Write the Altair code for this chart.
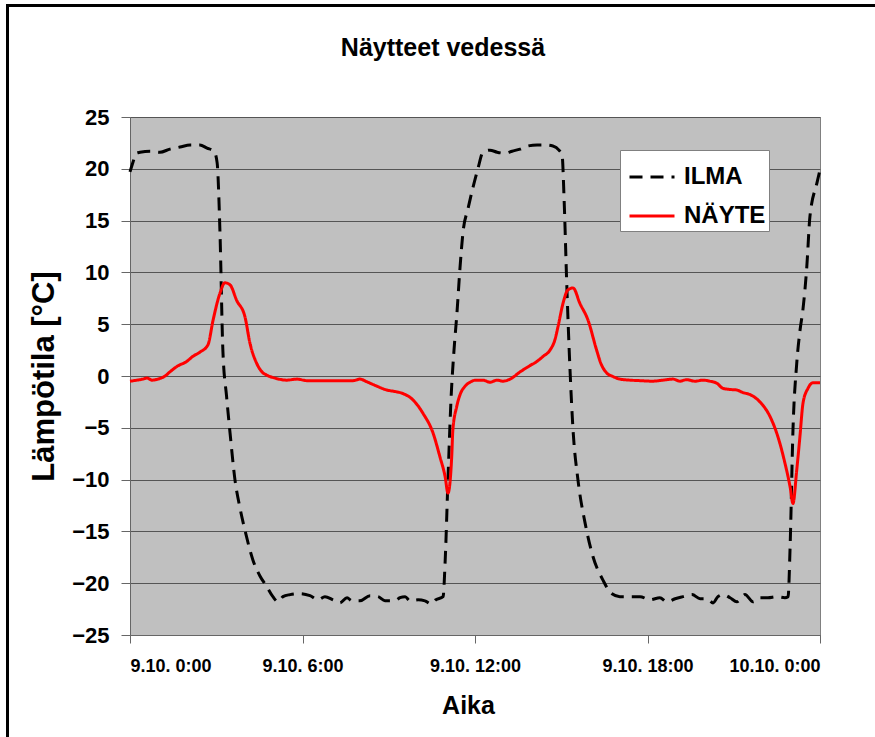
import json
import altair as alt
import pandas as pd

# ---- data (hours from 9.10. 0:00, temperature °C) ----
ILMA_T = [0.00, 0.10, 0.21, 0.35, 0.70, 1.04, 1.39, 1.74, 2.09, 2.43, 2.68, 2.92, 3.03, 3.13, 3.23,
          3.36, 3.48, 3.65, 3.83, 4.00, 4.28, 4.52, 4.75, 4.97, 5.15, 5.32, 5.57, 5.91, 6.26, 6.54,
          6.78, 7.06, 7.30, 7.55, 7.72, 8.00, 8.35, 8.63, 8.87, 9.22, 9.39, 9.57, 9.74, 10.02, 10.26,
          10.47, 10.64, 10.89, 10.96, 11.06, 11.17, 11.27, 11.37, 11.48, 11.58, 11.76, 11.93, 12.10,
          12.28, 12.52, 12.77, 13.04, 13.29, 13.57, 13.84, 14.16, 14.43, 14.71, 14.92, 15.03, 15.10,
          15.19, 15.30, 15.41, 15.58, 15.83, 16.10, 16.45, 16.75, 17.04, 17.39, 17.74, 18.09, 18.43,
          18.68, 18.96, 19.23, 19.55, 19.83, 20.07, 20.28, 20.45, 20.63, 20.87, 21.11, 21.39, 21.67,
          21.91, 22.19, 22.50, 22.78, 22.89, 22.96, 23.06, 23.19, 23.30, 23.41, 23.54, 23.65, 23.89,
          24.00]
ILMA_V = [19.7, 20.6, 21.5, 21.6, 21.7, 21.6, 21.9, 22.1, 22.3, 22.3, 22.0, 21.7, 20.6, 13.8, 2.5,
          -2.0, -5.5, -10.0, -12.8, -14.9, -17.8, -19.3, -20.3, -21.3, -21.8, -21.3, -21.1, -21.0, -21.2, -21.6,
          -21.3, -21.6, -21.9, -21.4, -21.7, -21.7, -21.2, -21.3, -21.7, -21.7, -21.4, -21.3, -21.7, -21.6, -21.7,
          -22.0, -21.6, -21.3, -18.0, -10.0, -2.0, 2.5, 6.0, 10.5, 13.8, 16.2, 18.2, 20.0,
          21.6, 21.8, 21.6, 21.5, 21.7, 21.9, 22.2, 22.3, 22.3, 22.2, 21.8, 21.3, 17.0,
          9.0, 0.9, -5.2, -10.0, -14.2, -17.4, -19.7, -21.0, -21.3, -21.3, -21.3, -21.6, -21.4,
          -21.8, -21.5, -21.3, -21.1, -21.5, -21.5, -21.9, -21.3, -21.1, -21.4, -21.8, -21.1, -21.8,
          -21.4, -21.4, -21.3, -21.4, -21.3, -16.5, -5.2, 1.2, 4.3, 6.5, 10.5, 15.4, 18.6,
          19.9]

NAYTE_T = [0.00, 0.24, 0.45, 0.59, 0.77, 0.97, 1.22, 1.39, 1.62, 1.97, 2.19, 2.43, 2.71, 2.89, 3.13,
           3.30, 3.48, 3.71, 4.00, 4.17, 4.41, 4.59, 4.75, 5.04, 5.45, 5.81, 6.15, 6.61, 7.13, 7.76,
           8.00, 8.23, 8.52, 8.93, 9.22, 9.50, 9.84, 10.19, 10.54, 10.78, 10.96, 11.06, 11.19, 11.23,
           11.36, 11.48, 11.65, 11.83, 12.03, 12.28, 12.52, 12.77, 12.97, 13.22, 13.57, 13.91, 14.15,
           14.37, 14.61, 14.78, 14.89, 15.06, 15.23, 15.41, 15.65, 15.93, 16.23, 16.38, 16.58, 16.80,
           17.04, 17.39, 17.74, 18.17, 18.54, 18.89, 19.13, 19.36, 19.65, 19.93, 20.17, 20.41, 20.63,
           20.87, 21.10, 21.32, 21.57, 21.91, 22.26, 22.54, 22.78, 22.96, 23.06, 23.19, 23.30, 23.41,
           23.58, 23.76, 24.00]
NAYTE_V = [-0.5, -0.4, -0.3, -0.2, -0.4, -0.3, 0.0, 0.4, 0.9, 1.4, 1.9, 2.3, 3.0, 5.4, 8.0,
           9.0, 8.8, 7.3, 5.7, 3.2, 1.2, 0.4, 0.1, -0.2, -0.4, -0.3, -0.45, -0.45, -0.45, -0.45,
           -0.3, -0.55, -0.9, -1.35, -1.5, -1.7, -2.3, -3.6, -5.5, -7.8, -9.7, -11.3, -7.8, -5.2,
           -3.0, -1.8, -1.0, -0.6, -0.4, -0.4, -0.6, -0.4, -0.5, -0.3, 0.4, 1.0, 1.4,
           1.9, 2.5, 3.5, 4.8, 7.0, 8.3, 8.5, 7.0, 5.4, 2.5, 1.2, 0.3, -0.05,
           -0.3, -0.4, -0.45, -0.5, -0.4, -0.3, -0.5, -0.35, -0.5, -0.4, -0.5, -0.7, -1.2,
           -1.3, -1.35, -1.6, -1.8, -2.5, -3.9, -5.9, -8.4, -10.7, -12.3, -9.1, -5.9, -2.6,
           -1.2, -0.65, -0.65]

SERIES = ["ILMA", "NÄYTE"]
X_TICKS = [0, 6, 12, 18, 24]
X_LABELS = ["9.10. 0:00", "9.10. 6:00", "9.10. 12:00", "9.10. 18:00", "10.10. 0:00"]
Y_TICKS = [-25, -20, -15, -10, -5, 0, 5, 10, 15, 20, 25]
TITLE = ["Näytteet vedessä"]

df = pd.concat([
    pd.DataFrame({"t": ILMA_T, "v": ILMA_V, "s": SERIES[0]}),
    pd.DataFrame({"t": NAYTE_T, "v": NAYTE_V, "s": SERIES[1]}),
], ignore_index=True)

FONT = "Liberation Sans"
label_expr = json.dumps(X_LABELS) + "[round(datum.value / 6)]"

lines = alt.Chart(df).mark_line(strokeWidth=3, clip=False, interpolate="monotone").encode(
    x=alt.X("t:Q", scale=alt.Scale(domain=[0, 24], nice=False, zero=False),
            axis=alt.Axis(values=X_TICKS, labelExpr=label_expr, title="Aika", grid=False,
                          labelFontSize=18, labelFontWeight="bold", labelPadding=14,
                          tickSize=8, titleFontSize=25, titleFontWeight="bold",
                          titleX=338, titleY=70, titleAlign="center",
                          titleBaseline="middle")),
    y=alt.Y("v:Q", scale=alt.Scale(domain=[-25, 25], nice=False, zero=False),
            axis=alt.Axis(values=Y_TICKS, title="Lämpötila [°C]", grid=True,
                          labelFontSize=22, labelFontWeight="bold", labelPadding=12,
                          tickSize=9, titleFontSize=31, titleFontWeight="bold",
                          titleX=-86, titleY=259, titleAngle=270, titleAlign="center",
                          titleBaseline="middle")),
    color=alt.Color("s:N", scale=alt.Scale(domain=SERIES, range=["#000000", "#FF0000"]),
                    legend=alt.Legend(title=None, orient="none", legendX=490, legendY=33,
                                      symbolType="stroke", symbolSize=2025,
                                      symbolStrokeWidth=3, labelFontSize=24,
                                      labelFontWeight="bold", fillColor="white",
                                      strokeColor="#808080", padding=3, rowPadding=3,
                                      symbolOffset=5, labelOffset=8)),
    strokeDash=alt.StrokeDash("s:N", scale=alt.Scale(domain=SERIES, range=[[13, 8], [1, 0]]),
                              legend=None),
)

frame = pd.DataFrame({"k": [0]})
border_top = alt.Chart(frame).mark_rule(color="black", strokeWidth=3).encode(
    x=alt.value(-123), x2=alt.value(760), y=alt.value(-111.5))
border_left = alt.Chart(frame).mark_rule(color="black", strokeWidth=3).encode(
    x=alt.value(-122.5), y=alt.value(-113), y2=alt.value(625))

title = alt.Chart(pd.DataFrame({"title": TITLE})).mark_text(
    fontSize=25, fontWeight="bold", font=FONT, color="black", baseline="middle", align="center"
).encode(text="title:N", x=alt.value(313), y=alt.value(-69))

chart = alt.layer(lines, border_top, border_left, title).properties(
    width=690, height=518,
    autosize=alt.AutoSizeParams(type="none"),
    padding={"left": 130, "top": 117, "right": 55, "bottom": 102},
).configure(
    font=FONT, background="white",
).configure_view(
    fill="#C0C0C0", stroke="#808080", strokeWidth=1,
).configure_axis(
    labelFont=FONT, titleFont=FONT, labelColor="black", titleColor="black",
    domainColor="#666666", tickColor="#666666", gridColor="#555555",
    gridWidth=1, domainWidth=1, tickWidth=1,
).configure_legend(
    labelFont=FONT, labelColor="black",
)

chart.save("out.html", embed_options={"renderer": "svg", "actions": False})
